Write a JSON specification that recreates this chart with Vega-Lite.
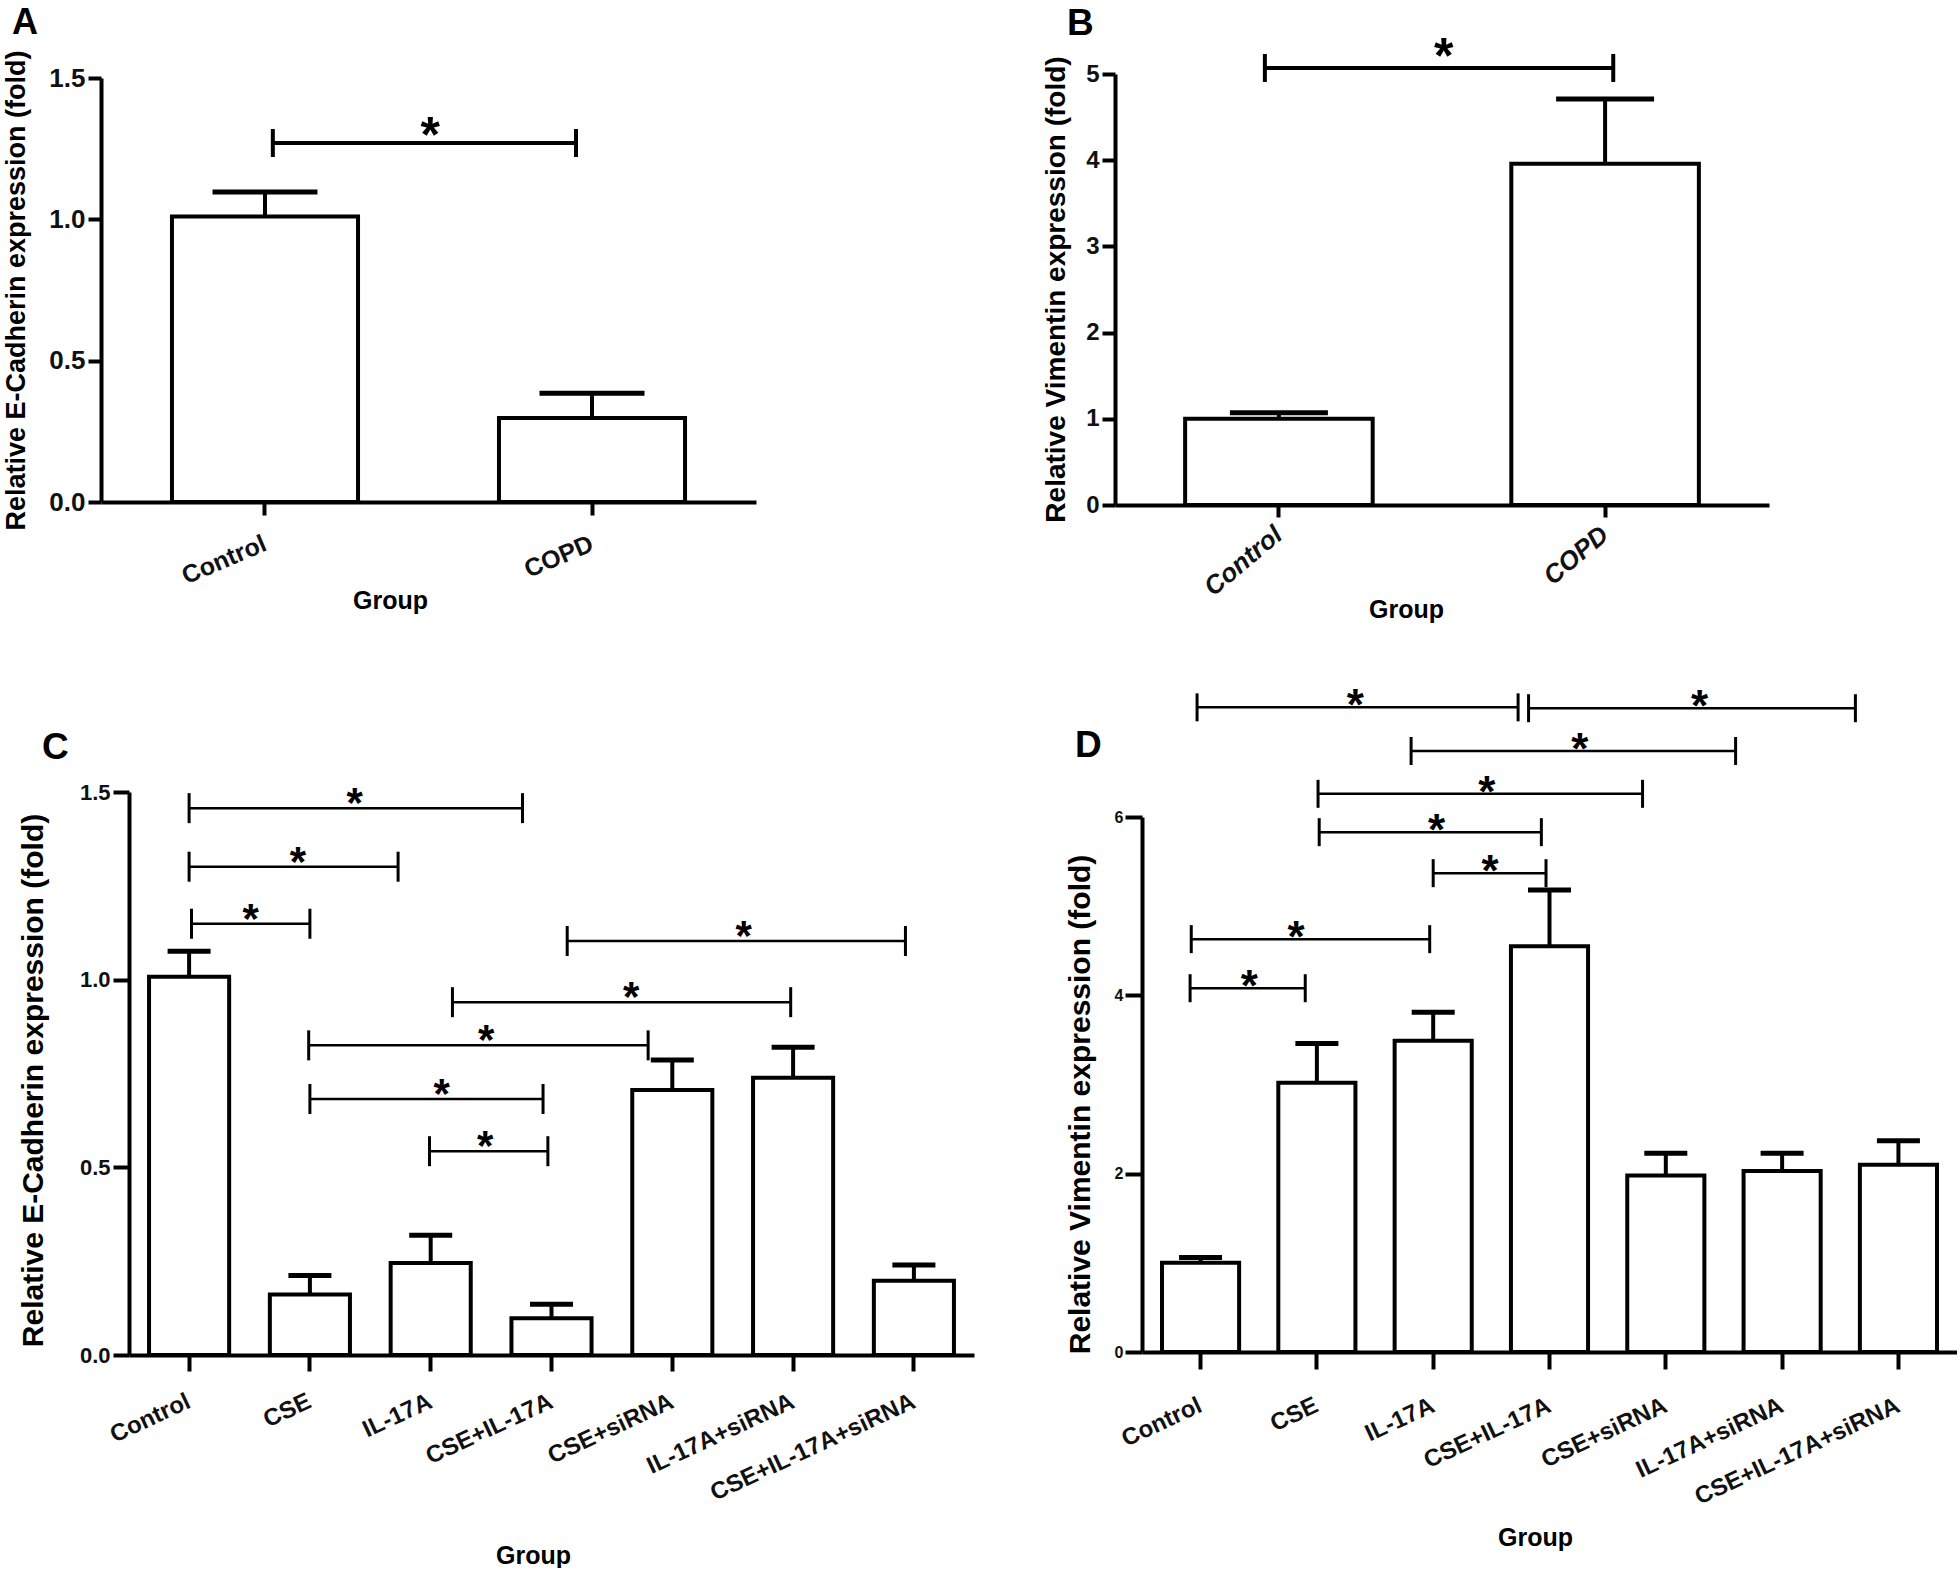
{
  "$schema": "https://vega.github.io/schema/vega-lite/v6.json",
  "background": "white",
  "padding": {"left": 1, "top": 4, "right": 0, "bottom": 0},
  "config": {
    "view": {"stroke": null},
    "font": "Liberation Sans",
    "axis": {"grid": false, "domainColor": "black", "tickColor": "black", "labelColor": "#111111", "titleColor": "black", "labelFont": "Liberation Sans", "titleFont": "Liberation Sans", "labelFontWeight": "bold", "titleFontWeight": "bold", "labelOverlap": false, "labelBound": false, "labelLimit": 0},
    "title": {"font": "Liberation Sans", "fontWeight": "bold", "color": "black", "baseline": "alphabetic"},
    "text": {"font": "Liberation Sans"}
  },
  "datasets": {
    "A_bars": [
      {"group": "Control", "mean": 1.01, "upper": 1.097},
      {"group": "COPD", "mean": 0.297, "upper": 0.385}
    ],
    "A_sig": [
      {"x1": 0.024, "x2": 0.951, "mid": 0.505, "y": 1.27, "label": "*"}
    ],
    "B_bars": [
      {"group": "Control", "mean": 1.0, "upper": 1.07},
      {"group": "COPD", "mean": 3.96, "upper": 4.71}
    ],
    "B_sig": [
      {"x1": -0.043, "x2": 1.025, "mid": 0.505, "y": 5.07, "label": "*"}
    ],
    "C_bars": [
      {"group": "Control", "mean": 1.008, "upper": 1.076},
      {"group": "CSE", "mean": 0.161, "upper": 0.212},
      {"group": "IL-17A", "mean": 0.245, "upper": 0.319},
      {"group": "CSE+IL-17A", "mean": 0.098, "upper": 0.135},
      {"group": "CSE+siRNA", "mean": 0.706, "upper": 0.786},
      {"group": "IL-17A+siRNA", "mean": 0.739, "upper": 0.82},
      {"group": "CSE+IL-17A+siRNA", "mean": 0.198, "upper": 0.24}
    ],
    "C_sig": [
      {"x1": 0.0, "x2": 2.76, "mid": 1.37, "y": 1.457, "label": "*"},
      {"x1": 0.0, "x2": 1.73, "mid": 0.9, "y": 1.301, "label": "*"},
      {"x1": 0.02, "x2": 1.0, "mid": 0.51, "y": 1.149, "label": "*"},
      {"x1": 3.13, "x2": 5.93, "mid": 4.59, "y": 1.103, "label": "*"},
      {"x1": 2.18, "x2": 4.98, "mid": 3.66, "y": 0.94, "label": "*"},
      {"x1": 0.99, "x2": 3.8, "mid": 2.46, "y": 0.825, "label": "*"},
      {"x1": 1.0, "x2": 2.93, "mid": 2.09, "y": 0.682, "label": "*"},
      {"x1": 1.99, "x2": 2.97, "mid": 2.45, "y": 0.543, "label": "*"}
    ],
    "D_bars": [
      {"group": "Control", "mean": 1.0, "upper": 1.06},
      {"group": "CSE", "mean": 3.02, "upper": 3.46},
      {"group": "IL-17A", "mean": 3.49, "upper": 3.81},
      {"group": "CSE+IL-17A", "mean": 4.55, "upper": 5.18},
      {"group": "CSE+siRNA", "mean": 1.98, "upper": 2.23},
      {"group": "IL-17A+siRNA", "mean": 2.03, "upper": 2.23},
      {"group": "CSE+IL-17A+siRNA", "mean": 2.1, "upper": 2.37}
    ],
    "D_sig": [
      {"x1": -0.03, "x2": 2.73, "mid": 1.33, "y": 7.23, "label": "*"},
      {"x1": 2.82, "x2": 5.63, "mid": 4.29, "y": 7.22, "label": "*"},
      {"x1": 1.81, "x2": 4.6, "mid": 3.26, "y": 6.74, "label": "*"},
      {"x1": 1.01, "x2": 3.8, "mid": 2.46, "y": 6.26, "label": "*"},
      {"x1": 1.02, "x2": 2.93, "mid": 2.03, "y": 5.83, "label": "*"},
      {"x1": 2.0, "x2": 2.97, "mid": 2.49, "y": 5.37, "label": "*"},
      {"x1": -0.08, "x2": 1.97, "mid": 0.82, "y": 4.63, "label": "*"},
      {"x1": -0.09, "x2": 0.9, "mid": 0.42, "y": 4.08, "label": "*"}
    ]
  },
  "columns": 2,
  "bounds": "flush",
  "align": "all",
  "spacing": {"row": 155, "column": 141},
  "concat": [
    {
      "width": 655, "height": 428,
      "title": {"text": "A", "anchor": "start", "frame": "group", "fontSize": 36, "dx": -89, "dy": -8, "offset": 0},
      "layer": [
        {
          "data": {"name": "A_bars"},
          "layer": [
            {
              "mark": {"type": "bar", "fill": "white", "stroke": "black", "strokeWidth": 4},
              "encoding": {
                "x": {"field": "group", "type": "nominal", "sort": null, "scale": {"paddingInner": 0.431, "paddingOuter": 0.217},
                  "axis": {"title": "Group", "titleX": 289, "titleY": 98, "titleAlign": "center", "titleBaseline": "middle", "titleFontSize": 25,
                    "labelAngle": -23, "labelAlign": "right", "labelBaseline": "middle", "labelPadding": 27, "labelFontSize": 25,
                    "domainWidth": 4, "tickWidth": 4, "tickSize": 13}},
                "y": {"field": "mean", "type": "quantitative", "scale": {"domain": [0, 1.5], "range": [428, 4], "nice": false},
                  "axis": {"title": "Relative E-Cadherin expression (fold)", "values": [0, 0.5, 1, 1.5], "format": ".1f",
                    "labelFontSize": 26, "labelPadding": 3, "tickSize": 13, "tickWidth": 4, "domainWidth": 4,
                    "titleFontSize": 27, "titleX": -85, "titleY": 216, "titleAlign": "center", "titleBaseline": "middle"}}
              }
            },
            {
              "mark": {"type": "rule", "strokeWidth": 4, "color": "black"},
              "encoding": {"x": {"field": "group", "type": "nominal", "sort": null}, "y": {"field": "mean", "type": "quantitative"}, "y2": {"field": "upper"}}
            },
            {
              "mark": {"type": "tick", "thickness": 5, "size": 105, "color": "black", "opacity": 1},
              "encoding": {"x": {"field": "group", "type": "nominal", "sort": null}, "y": {"field": "upper", "type": "quantitative"}}
            }
          ]
        },
        {
          "data": {"name": "A_sig"},
          "encoding": {"y": {"field": "y", "type": "quantitative", "scale": {"domain": [0, 1.5], "range": [428, 4], "nice": false}, "axis": null}},
          "layer": [
            {"mark": {"type": "rule", "strokeWidth": 4, "color": "black"},
             "encoding": {"x": {"field": "x1", "type": "quantitative", "scale": {"domain": [-0.5015, 1.5015], "nice": false, "zero": false}, "axis": null}, "x2": {"field": "x2"}}},
            {"mark": {"type": "point", "shape": "M0,-1L0,1", "size": 784, "filled": false, "stroke": "black", "strokeWidth": 4, "opacity": 1},
             "encoding": {"x": {"field": "x1", "type": "quantitative", "scale": {"domain": [-0.5015, 1.5015], "nice": false, "zero": false}, "axis": null}}},
            {"mark": {"type": "point", "shape": "M0,-1L0,1", "size": 784, "filled": false, "stroke": "black", "strokeWidth": 4, "opacity": 1},
             "encoding": {"x": {"field": "x2", "type": "quantitative", "scale": {"domain": [-0.5015, 1.5015], "nice": false, "zero": false}, "axis": null}}},
            {"mark": {"type": "text", "fontSize": 50, "fontWeight": "bold", "dy": 9, "baseline": "alphabetic", "align": "center", "color": "black"},
             "encoding": {"x": {"field": "mid", "type": "quantitative", "scale": {"domain": [-0.5015, 1.5015], "nice": false, "zero": false}, "axis": null}, "text": {"field": "label"}}}
          ]
        }
      ],
      "resolve": {"scale": {"x": "independent"}, "axis": {"y": "independent", "x": "independent"}}
    },
    {
      "width": 654, "height": 431,
      "title": {"text": "B", "anchor": "start", "frame": "group", "fontSize": 37, "dx": -48, "dy": 10, "offset": 0},
      "layer": [
        {
          "data": {"name": "B_bars"},
          "layer": [
            {
              "mark": {"type": "bar", "fill": "white", "stroke": "black", "strokeWidth": 4},
              "encoding": {
                "x": {"field": "group", "type": "nominal", "sort": null, "scale": {"paddingInner": 0.425, "paddingOuter": 0.215},
                  "axis": {"title": "Group", "titleX": 291, "titleY": 104, "titleAlign": "center", "titleBaseline": "middle", "titleFontSize": 25,
                    "labelAngle": -40, "labelAlign": "right", "labelBaseline": "middle", "labelPadding": 14, "labelFontSize": 26, "labelFontStyle": "italic",
                    "domainWidth": 4, "tickWidth": 4, "tickSize": 12}},
                "y": {"field": "mean", "type": "quantitative", "scale": {"domain": [0, 5], "nice": false},
                  "axis": {"title": "Relative  Vimentin expression (fold)", "values": [0, 1, 2, 3, 4, 5], "format": "d",
                    "labelFontSize": 24, "labelPadding": 3, "tickSize": 13, "tickWidth": 4, "domainWidth": 4,
                    "titleFontSize": 28, "titleX": -59, "titleY": 215, "titleAlign": "center", "titleBaseline": "middle"}}
              }
            },
            {
              "mark": {"type": "rule", "strokeWidth": 4, "color": "black"},
              "encoding": {"x": {"field": "group", "type": "nominal", "sort": null}, "y": {"field": "mean", "type": "quantitative"}, "y2": {"field": "upper"}}
            },
            {
              "mark": {"type": "tick", "thickness": 5, "size": 98, "color": "black", "opacity": 1},
              "encoding": {"x": {"field": "group", "type": "nominal", "sort": null}, "y": {"field": "upper", "type": "quantitative"}}
            }
          ]
        },
        {
          "data": {"name": "B_sig"},
          "encoding": {"y": {"field": "y", "type": "quantitative", "scale": {"domain": [0, 5], "nice": false}, "axis": null}},
          "layer": [
            {"mark": {"type": "rule", "strokeWidth": 4, "color": "black"},
             "encoding": {"x": {"field": "x1", "type": "quantitative", "scale": {"domain": [-0.5025, 1.5025], "nice": false, "zero": false}, "axis": null}, "x2": {"field": "x2"}}},
            {"mark": {"type": "point", "shape": "M0,-1L0,1", "size": 784, "filled": false, "stroke": "black", "strokeWidth": 4, "opacity": 1},
             "encoding": {"x": {"field": "x1", "type": "quantitative", "scale": {"domain": [-0.5025, 1.5025], "nice": false, "zero": false}, "axis": null}}},
            {"mark": {"type": "point", "shape": "M0,-1L0,1", "size": 784, "filled": false, "stroke": "black", "strokeWidth": 4, "opacity": 1},
             "encoding": {"x": {"field": "x2", "type": "quantitative", "scale": {"domain": [-0.5025, 1.5025], "nice": false, "zero": false}, "axis": null}}},
            {"mark": {"type": "text", "fontSize": 50, "fontWeight": "bold", "dy": 5, "baseline": "alphabetic", "align": "center", "color": "black"},
             "encoding": {"x": {"field": "mid", "type": "quantitative", "scale": {"domain": [-0.5025, 1.5025], "nice": false, "zero": false}, "axis": null}, "text": {"field": "label"}}}
          ]
        }
      ],
      "resolve": {"scale": {"x": "independent"}, "axis": {"y": "independent", "x": "independent"}}
    },
    {
      "width": 873, "height": 563,
      "title": {"text": "C", "anchor": "start", "frame": "group", "fontSize": 37, "dx": -59, "dy": -14, "offset": 0},
      "layer": [
        {
          "data": {"name": "C_bars"},
          "layer": [
            {
              "mark": {"type": "bar", "fill": "white", "stroke": "black", "strokeWidth": 4},
              "encoding": {
                "x": {"field": "group", "type": "nominal", "sort": null, "scale": {"paddingInner": 0.337, "paddingOuter": 0.166, "range": [28, 873]},
                  "axis": {"title": "Group", "titleX": 432, "titleY": 200, "titleAlign": "center", "titleBaseline": "middle", "titleFontSize": 25,
                    "labelAngle": -25, "labelAlign": "right", "labelBaseline": "middle", "labelPadding": 29, "labelFontSize": 24,
                    "domainWidth": 4, "tickWidth": 4, "tickSize": 16}},
                "y": {"field": "mean", "type": "quantitative", "scale": {"domain": [0, 1.5], "nice": false},
                  "axis": {"title": "Relative  E-Cadherin expression (fold)", "values": [0, 0.5, 1, 1.5], "format": ".1f", "offset": -28,
                    "labelFontSize": 22, "labelPadding": 3, "tickSize": 16, "tickWidth": 4, "domainWidth": 4,
                    "titleFontSize": 30, "titleX": -96, "titleY": 288, "titleAlign": "center", "titleBaseline": "middle"}}
              }
            },
            {
              "mark": {"type": "rule", "strokeWidth": 4, "color": "black"},
              "encoding": {"x": {"field": "group", "type": "nominal", "sort": null}, "y": {"field": "mean", "type": "quantitative"}, "y2": {"field": "upper"}}
            },
            {
              "mark": {"type": "tick", "thickness": 5, "size": 43, "color": "black", "opacity": 1},
              "encoding": {"x": {"field": "group", "type": "nominal", "sort": null}, "y": {"field": "upper", "type": "quantitative"}}
            }
          ]
        },
        {
          "data": {"name": "C_sig"},
          "encoding": {"y": {"field": "y", "type": "quantitative", "scale": {"domain": [0, 1.5], "nice": false}, "axis": null}},
          "layer": [
            {"mark": {"type": "rule", "strokeWidth": 2.5, "color": "black"},
             "encoding": {"x": {"field": "x1", "type": "quantitative", "scale": {"domain": [-0.4975, 6.4975], "range": [28, 873], "nice": false, "zero": false}, "axis": null}, "x2": {"field": "x2"}}},
            {"mark": {"type": "point", "shape": "M0,-1L0,1", "size": 900, "filled": false, "stroke": "black", "strokeWidth": 3, "opacity": 1},
             "encoding": {"x": {"field": "x1", "type": "quantitative", "scale": {"domain": [-0.4975, 6.4975], "range": [28, 873], "nice": false, "zero": false}, "axis": null}}},
            {"mark": {"type": "point", "shape": "M0,-1L0,1", "size": 900, "filled": false, "stroke": "black", "strokeWidth": 3, "opacity": 1},
             "encoding": {"x": {"field": "x2", "type": "quantitative", "scale": {"domain": [-0.4975, 6.4975], "range": [28, 873], "nice": false, "zero": false}, "axis": null}}},
            {"mark": {"type": "text", "fontSize": 42, "fontWeight": "bold", "dy": 9, "baseline": "alphabetic", "align": "center", "color": "black"},
             "encoding": {"x": {"field": "mid", "type": "quantitative", "scale": {"domain": [-0.4975, 6.4975], "range": [28, 873], "nice": false, "zero": false}, "axis": null}, "text": {"field": "label"}}}
          ]
        }
      ],
      "resolve": {"scale": {"x": "independent"}, "axis": {"y": "independent", "x": "independent"}}
    },
    {
      "width": 842, "height": 560,
      "title": {"text": "D", "anchor": "start", "frame": "group", "fontSize": 37, "dx": -40, "dy": 80, "offset": 0},
      "layer": [
        {
          "data": {"name": "D_bars"},
          "layer": [
            {
              "mark": {"type": "bar", "fill": "white", "stroke": "black", "strokeWidth": 4},
              "encoding": {
                "x": {"field": "group", "type": "nominal", "sort": null, "scale": {"paddingInner": 0.337, "paddingOuter": 0.172, "range": [27, 842]},
                  "axis": {"title": "Group", "titleX": 420, "titleY": 185, "titleAlign": "center", "titleBaseline": "middle", "titleFontSize": 25,
                    "labelAngle": -25, "labelAlign": "right", "labelBaseline": "middle", "labelPadding": 35, "labelFontSize": 24,
                    "domainWidth": 4, "tickWidth": 4, "tickSize": 17}},
                "y": {"field": "mean", "type": "quantitative", "scale": {"domain": [0, 6], "range": [560, 25], "nice": false},
                  "axis": {"title": "Relative Vimentin expression (fold)", "values": [0, 2, 4, 6], "format": "d", "offset": -27,
                    "labelFontSize": 16, "labelPadding": 2, "tickSize": 17, "tickWidth": 4, "domainWidth": 4,
                    "titleFontSize": 30, "titleX": -62, "titleY": 312, "titleAlign": "center", "titleBaseline": "middle"}}
              }
            },
            {
              "mark": {"type": "rule", "strokeWidth": 4, "color": "black"},
              "encoding": {"x": {"field": "group", "type": "nominal", "sort": null}, "y": {"field": "mean", "type": "quantitative"}, "y2": {"field": "upper"}}
            },
            {
              "mark": {"type": "tick", "thickness": 5, "size": 43, "color": "black", "opacity": 1},
              "encoding": {"x": {"field": "group", "type": "nominal", "sort": null}, "y": {"field": "upper", "type": "quantitative"}}
            }
          ]
        },
        {
          "data": {"name": "D_sig"},
          "encoding": {"y": {"field": "y", "type": "quantitative", "scale": {"domain": [0, 6], "range": [560, 25], "nice": false}, "axis": null}},
          "layer": [
            {"mark": {"type": "rule", "strokeWidth": 2.5, "color": "black"},
             "encoding": {"x": {"field": "x1", "type": "quantitative", "scale": {"domain": [-0.5035, 6.5035], "range": [27, 842], "nice": false, "zero": false}, "axis": null}, "x2": {"field": "x2"}}},
            {"mark": {"type": "point", "shape": "M0,-1L0,1", "size": 784, "filled": false, "stroke": "black", "strokeWidth": 3, "opacity": 1},
             "encoding": {"x": {"field": "x1", "type": "quantitative", "scale": {"domain": [-0.5035, 6.5035], "range": [27, 842], "nice": false, "zero": false}, "axis": null}}},
            {"mark": {"type": "point", "shape": "M0,-1L0,1", "size": 784, "filled": false, "stroke": "black", "strokeWidth": 3, "opacity": 1},
             "encoding": {"x": {"field": "x2", "type": "quantitative", "scale": {"domain": [-0.5035, 6.5035], "range": [27, 842], "nice": false, "zero": false}, "axis": null}}},
            {"mark": {"type": "text", "fontSize": 44, "fontWeight": "bold", "dy": 13, "baseline": "alphabetic", "align": "center", "color": "black"},
             "encoding": {"x": {"field": "mid", "type": "quantitative", "scale": {"domain": [-0.5035, 6.5035], "range": [27, 842], "nice": false, "zero": false}, "axis": null}, "text": {"field": "label"}}}
          ]
        }
      ],
      "resolve": {"scale": {"x": "independent"}, "axis": {"y": "independent", "x": "independent"}}
    }
  ]
}
